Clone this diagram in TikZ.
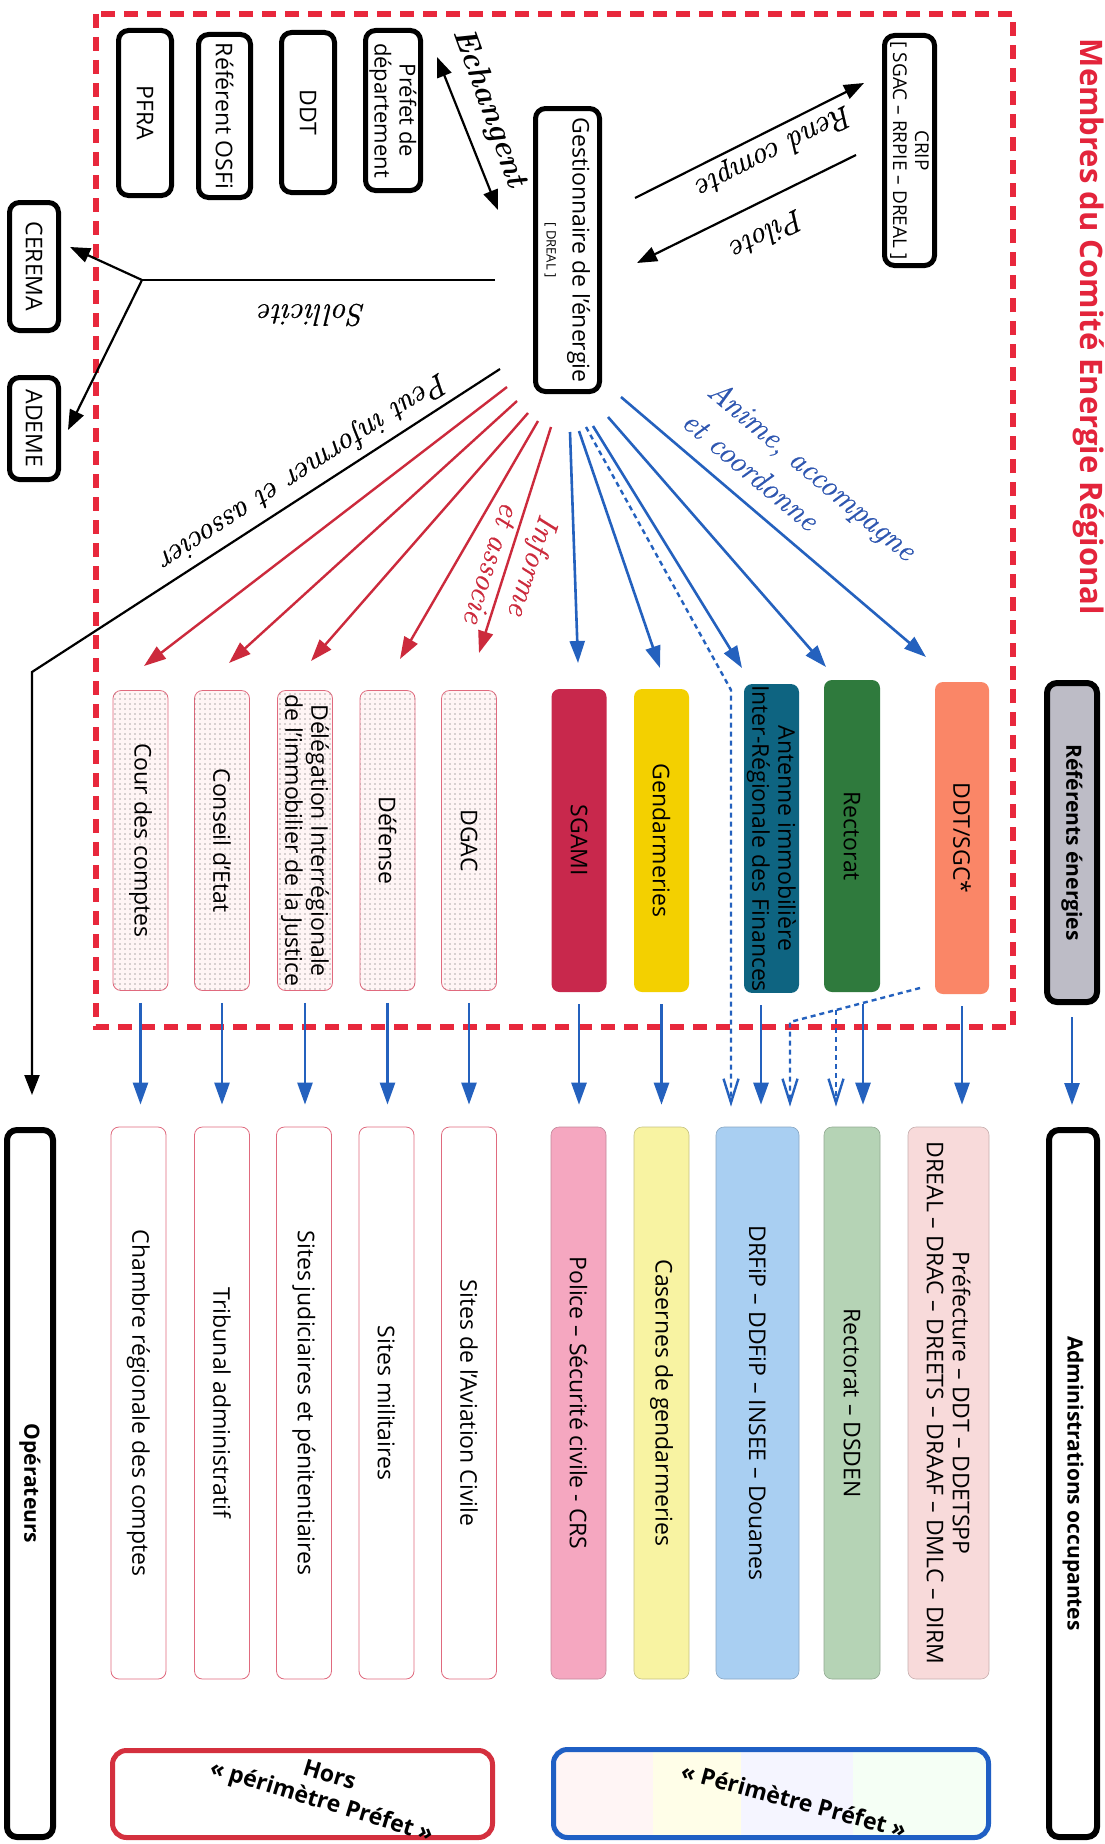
\documentclass[tikz,border=0pt]{standalone}
\usepackage{fontspec}
\setsansfont{Open Sans}
\newfontfamily\handfont{Latin Modern Roman}[ItalicFeatures={FakeBold=0.6}]
\usetikzlibrary{arrows.meta,patterns.meta}
\definecolor{framered}{HTML}{E8283C}
\definecolor{titlered}{HTML}{E3243B}
\definecolor{arrred}{HTML}{CC2A3C}
\definecolor{arrblue}{HTML}{2461BE}
\definecolor{labblue}{HTML}{2E56B0}
\definecolor{csgami}{HTML}{C8284C}
\definecolor{cgend}{HTML}{F3D000}
\definecolor{canten}{HTML}{0E6481}
\definecolor{crect}{HTML}{2F7A3D}
\definecolor{cddt}{HTML}{FA8667}
\definecolor{crefgray}{HTML}{BDBCC6}
\definecolor{cpolice}{HTML}{F5A7C0}
\definecolor{ccasern}{HTML}{F8F3A2}
\definecolor{cdrfip}{HTML}{A9CFF2}
\definecolor{crectl}{HTML}{B5D3B5}
\definecolor{cprefl}{HTML}{F8DADA}
\definecolor{horsred}{HTML}{E06A7E}
\definecolor{legred}{HTML}{D4303E}
\definecolor{legblue}{HTML}{1F5FC4}
\tikzset{
  vbox/.style={rotate=-90, align=center, inner sep=1pt, text=black,
    font=\sffamily\fontsize{23}{26}\selectfont},
  kbox/.style={vbox, draw=black, line width=5pt, fill=white, rounded corners=10pt},
  cbox/.style={vbox, rounded corners=8pt, minimum width=303pt, minimum height=55pt},
  hbox/.style={vbox, rounded corners=8pt, draw=horsred, line width=0.8pt, fill=red!4,
    postaction={pattern={Dots[distance=5pt,radius=0.6pt]}, pattern color=black!65},
    minimum width=300pt, minimum height=55pt},
  lbox/.style={vbox, rounded corners=8pt, minimum width=552pt, minimum height=55pt},
  wbox/.style={lbox, draw=horsred, line width=0.8pt, fill=white},
  hand/.style={font=\handfont\itshape\fontsize{31}{40}\selectfont, inner sep=0pt},
  legtxt/.style={font=\sffamily\bfseries\fontsize{23}{27}\selectfont, align=center},
  kline/.style={draw=black, line width=2.2pt},
  karr/.style={draw=black, line width=2.2pt, -{Triangle[length=20pt,width=15pt]}},
  rarr/.style={draw=arrred, line width=2.4pt, -{Triangle[length=22pt,width=15pt]}},
  barr/.style={draw=arrblue, line width=2.6pt, -{Triangle[length=22pt,width=15pt]}},
  bdash/.style={draw=arrblue, line width=2.4pt, dash pattern=on 5pt off 4pt,
    -{Straight Barb[length=24pt,width=15pt]}},
  dn/.style={shorten <=12pt, shorten >=22pt}
}
\begin{document}
\begin{tikzpicture}[x=1pt,y=-1pt]
\fill[white] (0,0) rectangle (1104,1844);
\useasboundingbox (0,0) rectangle (1104,1844);

% dashed frame
\draw[framered, line width=6pt, dash pattern=on 14pt off 9pt] (96,14) rectangle (1013,1027);

% title
\node[vbox, text=titlered, font=\sffamily\bfseries\fontsize{31}{36}\selectfont] (title) at (1089,327) {Membres du Comité Energie Régional};

% top boxes
\node[kbox, minimum width=230pt, minimum height=50pt, font=\sffamily\fontsize{19}{22}\selectfont] (crip) at (909.5,150.5) {CRIP\\{[} SGAC – RRPIE – DREAL {]}};
\node[kbox, minimum width=283pt, minimum height=64pt] (gest) at (567.5,250) {Gestionnaire de l’énergie\\{\fontsize{13}{15}\selectfont [ DREAL ]}};
\node[kbox, minimum width=160pt, minimum height=55pt, font=\sffamily\fontsize{22}{25}\selectfont] (pref) at (393,110.5) {Préfet de\\département};
\node[kbox, minimum width=160pt, minimum height=53pt] (ddtb) at (308,112.5) {DDT};
\node[kbox, minimum width=163pt, minimum height=52pt] (osfi) at (224.5,116) {Référent OSFi};
\node[kbox, minimum width=165pt, minimum height=53pt] (pfra) at (145,113) {PFRA};
\node[kbox, minimum width=128pt, minimum height=49pt] (cerema) at (34,266.5) {CEREMA};
\node[kbox, minimum width=102pt, minimum height=49pt] (ademe) at (34,428.5) {ADEME};

% upper row
\node[hbox] (cour) at (140.5,840.5) {Cour des comptes};
\node[hbox] (conseil) at (222,840.5) {Conseil d’Etat};
\node[hbox] (deleg) at (305,840.5) {Délégation Interrégionale\\de l’immobilier de la Justice};
\node[hbox] (defense) at (387.5,840.5) {Défense};
\node[hbox] (dgac) at (469,840.5) {DGAC};
\node[cbox, fill=csgami] (sgami) at (579,840.5) {SGAMI};
\node[cbox, fill=cgend] (gendu) at (661.5,840.5) {Gendarmeries};
\node[cbox, fill=canten, minimum width=307pt] (anten) at (771.5,838.5) {Antenne immobilière\\Inter-Régionale des Finances};
\node[cbox, fill=crect, minimum width=312pt, minimum height=56pt] (rect) at (852,836) {Rectorat};
\node[cbox, fill=cddt, minimum width=312pt, minimum height=54pt] (ddtsgc) at (962,838) {DDT/SGC*};
\node[kbox, fill=crefgray, line width=6pt, minimum width=319pt, minimum height=50pt, font=\sffamily\bfseries\fontsize{21}{25}\selectfont] (refe) at (1072,842.5) {Référents énergies};

% lower row
\node[wbox] (chambre) at (138.5,1403) {Chambre régionale des comptes};
\node[wbox] (tribunal) at (222,1403) {Tribunal administratif};
\node[wbox] (sitesj) at (304,1403) {Sites judiciaires et pénitentiaires};
\node[wbox] (sitesm) at (386.5,1403) {Sites militaires};
\node[wbox] (aviation) at (469,1403) {Sites de l’Aviation Civile};
\node[lbox, fill=cpolice, draw=cpolice!80!black, line width=0.6pt] (police) at (578.5,1403) {Police – Sécurité civile - CRS};
\node[lbox, fill=ccasern, draw=ccasern!80!black, line width=0.6pt] (casern) at (661.5,1403) {Casernes de gendarmeries};
\node[lbox, fill=cdrfip, draw=cdrfip!80!black, line width=0.6pt, minimum height=83pt] (drfipl) at (757.5,1403) {DRFiP – DDFiP – INSEE – Douanes};
\node[lbox, fill=crectl, draw=crectl!80!black, line width=0.6pt, minimum height=56pt] (rectl) at (852,1403) {Rectorat – DSDEN};
\node[lbox, fill=cprefl, draw=cprefl!80!black, line width=0.6pt, minimum height=81pt] (prefl) at (948.5,1403) {Préfecture – DDT – DDETSPP\\DREAL – DRAC – DREETS – DRAAF – DMLC – DIRM};
\node[kbox, line width=6pt, minimum width=707pt, minimum height=48pt, font=\sffamily\bfseries\fontsize{21}{25}\selectfont] (admin) at (1073,1483.5) {Administrations occupantes};
\node[kbox, line width=6pt, minimum width=707pt, minimum height=46pt, font=\sffamily\bfseries\fontsize{21}{25}\selectfont] (oper) at (30,1483.5) {Opérateurs};

% legend
\node[draw=legred, line width=5pt, rounded corners=14pt, minimum width=380pt, minimum height=87pt] (leghors) at (302.5,1794) {};
\node[legtxt, rotate=-17] (leghorst) at (325,1790) {Hors\\«~périmètre Préfet~»};
\begin{scope}
\clip[rounded corners=14pt] (551,1747) rectangle (991,1840);
\fill[red!4] (551,1747) rectangle (653,1840);
\fill[yellow!9] (653,1747) rectangle (741,1840);
\fill[blue!4] (741,1747) rectangle (853,1840);
\fill[green!4] (853,1747) rectangle (991,1840);
\end{scope}
\node[draw=legblue, line width=5pt, rounded corners=14pt, minimum width=435pt, minimum height=88pt] (legper) at (771,1793.5) {};
\node[legtxt, rotate=-15] (legpert) at (794,1800) {«~Périmètre Préfet~»};

% CRIP <-> gestionnaire
\coordinate (rcA) at (635,198); \coordinate (rcB) at (864,83);
\coordinate (plA) at (856,155); \coordinate (plB) at (637,263);
\draw[karr] (rcA) -- (rcB);
\draw[karr] (plA) -- (plB);
\node[hand, rotate=207] (lrend) at (774,150) {Rend compte};
\node[hand, rotate=207] (lpil) at (768,235) {Pilote};

% Echangent
\coordinate (ecA) at (437,57); \coordinate (ecB) at (498,210);
\draw[draw=black, line width=2.2pt, {Triangle[length=20pt,width=15pt]}-{Triangle[length=20pt,width=15pt]}] (ecA) -- (ecB);
\node[hand, font=\handfont\bfseries\itshape\fontsize{32}{40}\selectfont, rotate=-70] (lech) at (489,108) {Echangent};

% Sollicite
\coordinate (soA) at (495,280); \coordinate (soB) at (142,280);
\coordinate (soC) at (70,247); \coordinate (soD) at (68,430);
\draw[kline] (soA) -- (soB);
\draw[karr] (soB) -- (soC);
\draw[karr] (soB) -- (soD);
\node[hand, rotate=180] (lsol) at (312,315) {Sollicite};

% Peut informer et associer
\coordinate (peA) at (500,369); \coordinate (peB) at (32,672);
\draw[karr, shorten >=32pt] (peA) -- (peB) -- (peB |- oper.west);
\node[hand, rotate=213] (lpeut) at (303,470) {Peut informer et associer};

% red fan
\coordinate (r1A) at (507,387); \coordinate (r1B) at (144,666);
\coordinate (r2A) at (517,401); \coordinate (r2B) at (229,663);
\coordinate (r3A) at (528,413); \coordinate (r3B) at (311,661);
\coordinate (r4A) at (538,421); \coordinate (r4B) at (400,659);
\coordinate (r5A) at (551,427); \coordinate (r5B) at (479,653);
\draw[rarr] (r1A) -- (r1B);
\draw[rarr] (r2A) -- (r2B);
\draw[rarr] (r3A) -- (r3B);
\draw[rarr] (r4A) -- (r4B);
\draw[rarr] (r5A) -- (r5B);
\node[hand, text=arrred, rotate=-108, align=left] (linf) at (512,570) {Informe\\et associe};

% blue fan
\coordinate (b1A) at (570,432); \coordinate (b1B) at (578,663);
\coordinate (b2A) at (579,431); \coordinate (b2B) at (660,668);
\coordinate (b3A) at (593,426); \coordinate (b3B) at (742,668);
\coordinate (b4A) at (608,417); \coordinate (b4B) at (826,667);
\coordinate (b5A) at (621,397); \coordinate (b5B) at (926,657);
\draw[barr] (b1A) -- (b1B);
\draw[barr] (b2A) -- (b2B);
\draw[barr] (b3A) -- (b3B);
\draw[barr] (b4A) -- (b4B);
\draw[barr] (b5A) -- (b5B);
\node[hand, text=labblue, rotate=-40, align=left] (lanim) at (800,485) {Anime, accompagne\\et coordonne};

% dashed from gestionnaire
\coordinate (dgA) at (586,427); \coordinate (dgB) at (731,690);
\draw[bdash, shorten >=20pt] (dgA) -- (dgB) -- (dgB |- drfipl.west);

% down arrows
\draw[barr, dn] (cour.east) -- (cour.east |- chambre.west);
\draw[barr, dn] (conseil.east) -- (conseil.east |- tribunal.west);
\draw[barr, dn] (deleg.east) -- (deleg.east |- sitesj.west);
\draw[barr, dn] (defense.east) -- (defense.east |- sitesm.west);
\draw[barr, dn] (dgac.east) -- (dgac.east |- aviation.west);
\draw[barr, dn] (sgami.east) -- (sgami.east |- police.west);
\draw[barr, dn] (gendu.east) -- (gendu.east |- casern.west);
\coordinate (antA) at ([xshift=-10.5pt]anten.east);
\draw[barr, dn] (antA) -- (antA |- drfipl.west);
\coordinate (recA) at ([xshift=11pt]rect.east);
\draw[barr, dn] (recA) -- (recA |- rectl.west);
\draw[barr, dn] (ddtsgc.east) -- (ddtsgc.east |- prefl.west);
\draw[barr, dn] (refe.east) -- (refe.east |- admin.west);

% dashed from DDT/SGC
\coordinate (dsA) at (920,988); \coordinate (dsB) at (790,1022); \coordinate (dsC) at (836,1010);
\draw[bdash, shorten >=20pt] (dsA) -- (dsB) -- (dsB |- drfipl.west);
\draw[bdash, shorten >=20pt] (dsC) -- (dsC |- rectl.west);
\end{tikzpicture}
\end{document}
